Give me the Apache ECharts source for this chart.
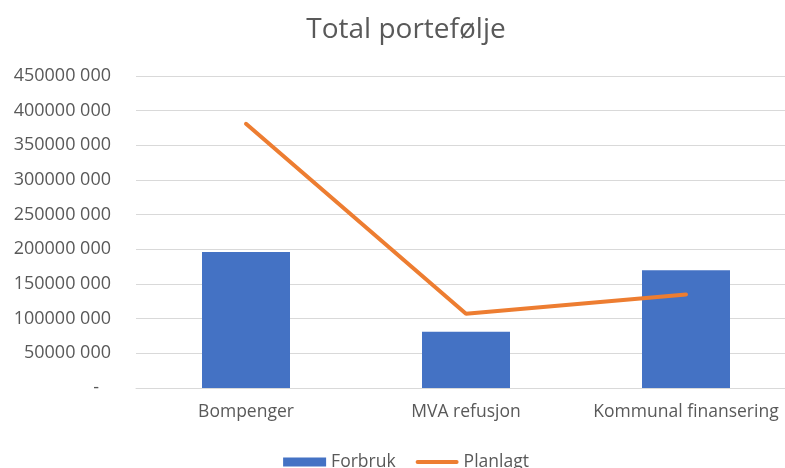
<!DOCTYPE html>
<html>
<head>
<meta charset="utf-8">
<script src="https://cdn.jsdelivr.net/npm/echarts@6/dist/echarts.min.js"></script>
<style>
  html, body { margin: 0; padding: 0; overflow: hidden; background: #fff; }
  #chart { width: 812px; height: 468px; }
</style>
</head>
<body>
<div id="chart"></div>
<script>
// data
var categories = ['Bompenger', 'MVA refusjon', 'Kommunal finansering'];
var forbruk = [196000000, 81000000, 170000000];
var planlagt = [381000000, 107000000, 135000000];

var textColor = '#595959';
var fontName = '"Open Sans", sans-serif';

// 450000000 -> "450000 000", 0 -> "-"
function fmt(v) {
    if (v === 0) return '{z|-}';
    var s = String(v);
    return s.slice(0, -3) + ' ' + s.slice(-3);
}

var chart = echarts.init(document.getElementById('chart'));
chart.setOption({
    animation: false,
    textStyle: { fontFamily: fontName },
    title: {
        text: 'Total portefølje',
        left: 'center',
        top: 11,
        textStyle: { color: textColor, fontSize: 28, fontWeight: 'normal', fontFamily: fontName }
    },
    legend: {
        top: 448,
        left: 'center',
        itemWidth: 43,
        itemHeight: 9,
        itemGap: 20,
        textStyle: { color: textColor, fontSize: 17.5, fontFamily: fontName },
        data: [
            { name: 'Forbruk', icon: 'rect' },
            { name: 'Planlagt', icon: 'path://M2,0 L41,0 A2,2 0 0 1 41,4 L2,4 A2,2 0 0 1 2,0 Z' }
        ]
    },
    grid: { left: 136, right: 16, top: 76, bottom: 80 },
    xAxis: {
        type: 'category',
        data: categories,
        axisTick: { show: false },
        axisLine: { lineStyle: { color: '#d9d9d9', width: 1 } },
        axisLabel: { color: textColor, fontSize: 17.5, margin: 15, interval: 0 }
    },
    yAxis: {
        type: 'value',
        min: 0,
        max: 450000000,
        interval: 50000000,
        axisLine: { show: false },
        axisTick: { show: false },
        splitLine: { lineStyle: { color: '#d9d9d9', width: 1 } },
        axisLabel: {
            color: textColor,
            fontSize: 18,
            margin: 25,
            formatter: fmt,
            rich: { z: { color: textColor, fontSize: 18, padding: [0, 12, 0, 0] } }
        }
    },
    series: [
        {
            name: 'Forbruk',
            type: 'bar',
            data: forbruk,
            barWidth: '40%',
            itemStyle: { color: '#4472C4' }
        },
        {
            name: 'Planlagt',
            type: 'line',
            data: planlagt,
            symbol: 'none',
            lineStyle: { color: '#ED7D31', width: 4, cap: 'round' },
            itemStyle: { color: '#ED7D31' }
        }
    ]
});
</script>
</body>
</html>
